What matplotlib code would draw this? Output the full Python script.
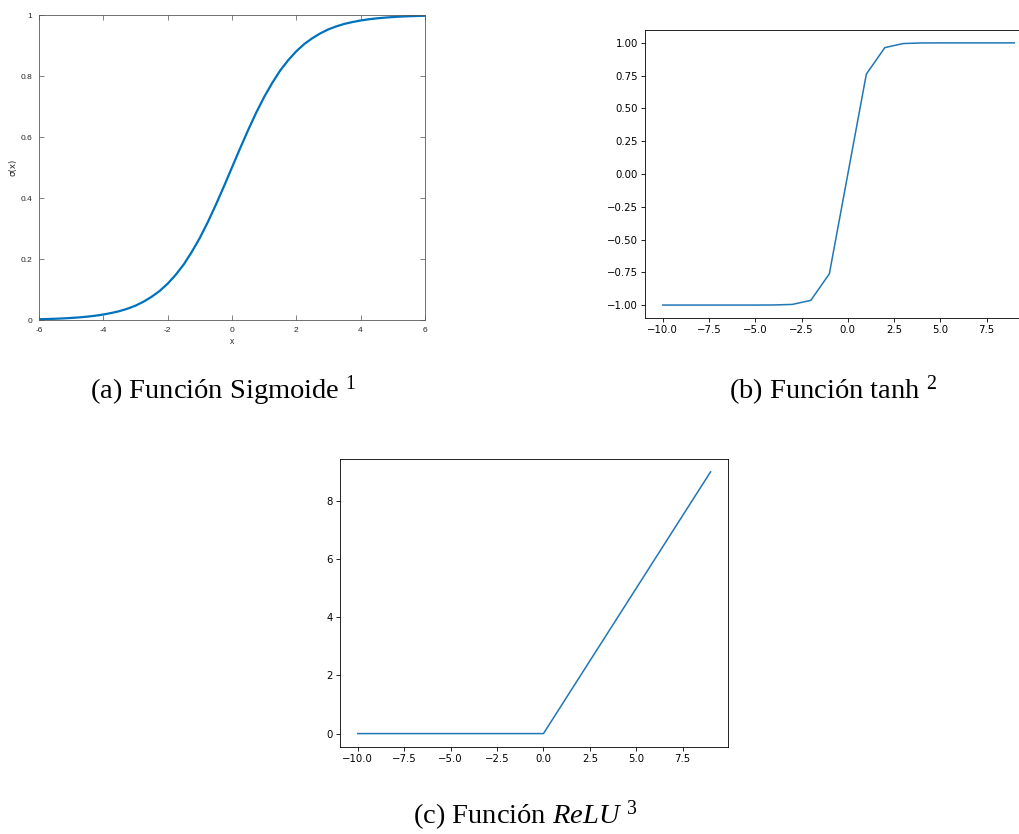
import matplotlib
matplotlib.use("Agg")
import matplotlib.pyplot as plt
from matplotlib.ticker import FormatStrFormatter

# --- data -------------------------------------------------------------------
# sigmoid, sampled every 0.25 on [-6, 6]
sig_x = [-6.0, -5.75, -5.5, -5.25, -5.0, -4.75, -4.5, -4.25, -4.0, -3.75, -3.5,
         -3.25, -3.0, -2.75, -2.5, -2.25, -2.0, -1.75, -1.5, -1.25, -1.0, -0.75,
         -0.5, -0.25, 0.0, 0.25, 0.5, 0.75, 1.0, 1.25, 1.5, 1.75, 2.0, 2.25, 2.5,
         2.75, 3.0, 3.25, 3.5, 3.75, 4.0, 4.25, 4.5, 4.75, 5.0, 5.25, 5.5, 5.75, 6.0]
sig_y = [0.0025, 0.0032, 0.0041, 0.0052, 0.0067, 0.0086, 0.011, 0.014, 0.018,
         0.023, 0.029, 0.037, 0.047, 0.060, 0.076, 0.095, 0.119, 0.148, 0.182,
         0.223, 0.269, 0.321, 0.378, 0.438, 0.5, 0.562, 0.622, 0.679, 0.731,
         0.777, 0.818, 0.852, 0.881, 0.905, 0.924, 0.940, 0.953, 0.963, 0.971,
         0.977, 0.982, 0.986, 0.989, 0.9914, 0.9933, 0.9948, 0.9959, 0.9968, 0.9975]
sig_xticks = [-6, -4, -2, 0, 2, 4, 6]
sig_xticklabels = ["-6", "-4", "-2", "0", "2", "4", "6"]
sig_yticks = [0, 0.2, 0.4, 0.6, 0.8, 1]
sig_yticklabels = ["0", "0.2", "0.4", "0.6", "0.8", "1"]

# tanh and relu on the integers -10..9
int_x = list(range(-10, 10))
tanh_y = [-1.0, -1.0, -1.0, -1.0, -1.0, -1.0, -0.9993, -0.995, -0.964, -0.762,
          0.0, 0.762, 0.964, 0.995, 0.9993, 1.0, 1.0, 1.0, 1.0, 1.0]
relu_y = [0, 0, 0, 0, 0, 0, 0, 0, 0, 0, 0, 1, 2, 3, 4, 5, 6, 7, 8, 9]

int_xticks = [-10, -7.5, -5, -2.5, 0, 2.5, 5, 7.5]
tanh_yticks = [-1.0, -0.75, -0.5, -0.25, 0.0, 0.25, 0.5, 0.75, 1.0]

captions = ["(a) Función Sigmoide ${}^{\\mathrm{1}}$",
            "(b) Función tanh ${}^{\\mathrm{2}}$",
            "(c) Función $\\mathit{ReLU}$ ${}^{\\mathrm{3}}$"]

plt.rcParams["mathtext.fontset"] = "custom"
plt.rcParams["mathtext.rm"] = "Liberation Serif"
plt.rcParams["mathtext.it"] = "Liberation Serif:italic"

fig = plt.figure(figsize=(10.2, 8.34), dpi=100)

# --- (a) sigmoid, octave look -------------------------------------------------
ax_a = fig.add_axes([0.0382, 0.6163, 0.3784, 0.3657])
ax_a.plot(sig_x, sig_y, color="#0072BD", lw=1.6, solid_capstyle="butt")
ax_a.set_xlim(-6, 6)
ax_a.set_ylim(0, 1)
ax_a.set_xticks(sig_xticks)
ax_a.set_xticklabels(sig_xticklabels)
ax_a.set_yticks(sig_yticks)
ax_a.set_yticklabels(sig_yticklabels)
ax_a.tick_params(direction="in", length=3.5, width=0.5, colors="0.3",
                 labelcolor="#262626", labelsize=6.0, pad=4.8,
                 top=True, right=True)
for s in ax_a.spines.values():
    s.set_color("0.35")
    s.set_linewidth(0.6)
for lab in ax_a.get_xticklabels() + ax_a.get_yticklabels():
    lab.set_family("Liberation Sans")
ax_a.set_xlabel("x", fontsize=6.2, family="Liberation Sans", color="#262626", labelpad=2.5)
ax_a.set_ylabel("σ(x)", fontsize=6.2, family="DejaVu Sans", color="#262626", labelpad=2)

# --- (b) tanh and (c) relu, default matplotlib look, scaled down --------------
def small_default(ax):
    ax.tick_params(labelsize=7.3, length=2.6, width=0.6, pad=2.5)
    for s in ax.spines.values():
        s.set_linewidth(0.6)

ax_b = fig.add_axes([0.6326, 0.6185, 0.3791, 0.3458])
ax_b.plot(int_x, tanh_y, color="#1f77b4", lw=1.1)
ax_b.set_yticks(tanh_yticks)
ax_b.yaxis.set_major_formatter(FormatStrFormatter("%.2f"))
ax_b.set_xticks(int_xticks)
ax_b.xaxis.set_major_formatter(FormatStrFormatter("%.1f"))
small_default(ax_b)

ax_c = fig.add_axes([0.3335, 0.1047, 0.3804, 0.3452])
ax_c.plot(int_x, relu_y, color="#1f77b4", lw=1.1)
ax_c.set_xticks(int_xticks)
ax_c.xaxis.set_major_formatter(FormatStrFormatter("%.1f"))
small_default(ax_c)

# unicode minus for the formatted labels
fig.canvas.draw()
for ax in (ax_b, ax_c):
    ax.set_xticklabels([t.get_text().replace("-", "\u2212") for t in ax.get_xticklabels()])
ax_b.set_yticklabels([t.get_text().replace("-", "\u2212") for t in ax_b.get_yticklabels()])

# --- captions -----------------------------------------------------------------
cap_kw = dict(fontsize=20.5, family="Liberation Serif", ha="center", va="center")
fig.text(223 / 1020, 1 - 391 / 834, captions[0], **cap_kw)
fig.text(833 / 1020, 1 - 391 / 834, captions[1], **cap_kw)
fig.text(525 / 1020, 1 - 816 / 834, captions[2], **cap_kw)

fig.savefig("out.png", dpi=100)
